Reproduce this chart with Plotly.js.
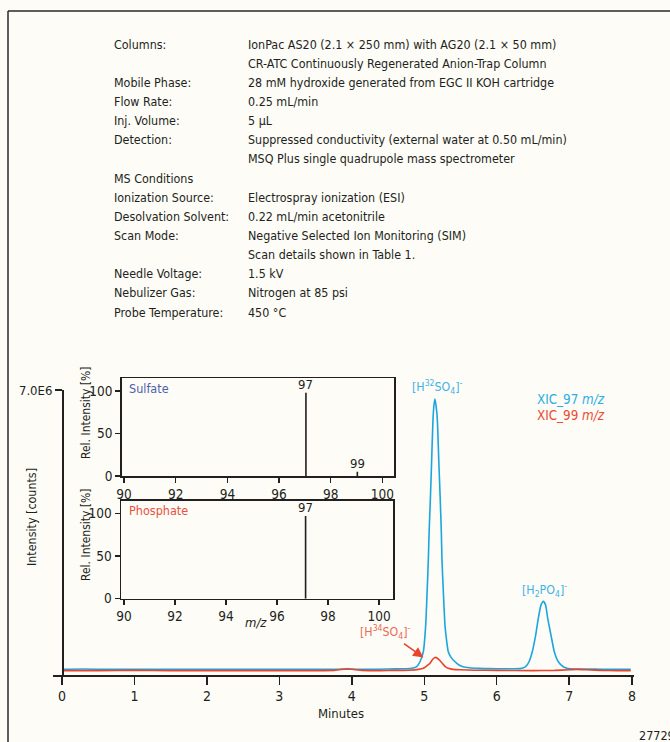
<!DOCTYPE html>
<html>
<head>
<meta charset="utf-8">
<script src="https://cdn.plot.ly/plotly-3.0.1.min.js"></script>
<style>
  html, body { margin: 0; padding: 0; background: #fdfcf7; }
  #chart { width: 670px; height: 742px; }
  .main-svg text { font-stretch: condensed; }
</style>
</head>
<body>
<div id="chart"></div>
<script>
// ---------------- DATA ----------------
// Chromatogram, time in minutes (axis drawn as in the reference: tick "8" sits at the end of the axis)
const xic97Time = [0, 0.3, 0.6, 1.0, 1.5, 2.0, 2.5, 3.0, 3.5, 3.9, 4.2, 4.5, 4.7, 4.8, 4.86, 4.896, 4.941, 4.987, 5.02, 5.045, 5.056, 5.068, 5.085, 5.10, 5.121, 5.136, 5.148, 5.162, 5.18, 5.203, 5.22, 5.235, 5.245, 5.265, 5.286, 5.31, 5.332, 5.37, 5.424, 5.48, 5.535, 5.62, 5.75, 5.9, 6.1, 6.25, 6.321, 6.37, 6.40, 6.446, 6.491, 6.538, 6.574, 6.61, 6.643, 6.675, 6.704, 6.749, 6.795, 6.85, 6.919, 6.97, 7.012, 7.1, 7.25, 7.45, 7.65, 7.85];
const xic97Counts = [0.02, 0.03, 0.02, 0.025, 0.02, 0.025, 0.02, 0.02, 0.02, 0.025, 0.02, 0.03, 0.035, 0.04, 0.06, 0.087, 0.211, 0.46, 1.125, 2.2, 2.743, 3.49, 4.3, 5.108, 6.278, 6.65, 6.776, 6.62, 6.278, 5.108, 4.3, 3.49, 2.743, 1.9, 1.125, 0.72, 0.46, 0.32, 0.211, 0.13, 0.087, 0.06, 0.045, 0.04, 0.035, 0.035, 0.04, 0.06, 0.087, 0.211, 0.46, 0.876, 1.292, 1.62, 1.722, 1.63, 1.292, 0.876, 0.46, 0.211, 0.087, 0.05, 0.035, 0.03, 0.03, 0.025, 0.025, 0.02];
const xic99Time = [0, 0.5, 1.0, 1.5, 2.0, 2.5, 3.0, 3.5, 3.75, 3.85, 3.93, 4.02, 4.15, 4.4, 4.6, 4.8, 4.92, 4.987, 5.03, 5.079, 5.12, 5.158, 5.20, 5.249, 5.29, 5.332, 5.40, 5.5, 5.7, 6.0, 6.5, 6.8, 7.0, 7.1, 7.25, 7.45, 7.65, 7.85];
const xic99Counts = [-0.01, -0.01, -0.005, -0.01, -0.01, -0.01, -0.01, -0.01, -0.005, 0.02, 0.035, 0.02, -0.005, -0.01, -0.005, 0.0, 0.02, 0.047, 0.1, 0.172, 0.28, 0.321, 0.27, 0.172, 0.09, 0.047, 0.02, 0.01, 0.0, -0.005, -0.01, -0.005, 0.01, 0.02, 0.01, -0.005, -0.01, -0.01];
const countsUnit = 1e6;

const timeTickVals = [0, 1, 2, 3, 4, 5, 6, 7, 7.867];
const timeTickText = ['0', '1', '2', '3', '4', '5', '6', '7', '8'];
const countTickVals = [7.0e6];
const countTickText = ['7.0E6'];

// Mass spectra insets
const sulfateMz = [97.04, 99.03];
const sulfateRel = [98, 5];
const sulfatePeakLabels = ['97', '99'];
const phosphateMz = [97.12];
const phosphateRel = [97];
const phosphatePeakLabels = ['97'];
const mzTickVals = [90, 92, 94, 96, 98, 100];
const relTickVals = [0, 50, 100];

// Method conditions text
const condLabels = ['Columns:', '', 'Mobile Phase:', 'Flow Rate:', 'Inj. Volume:', 'Detection:', '', 'MS Conditions', 'Ionization Source:', 'Desolvation Solvent:', 'Scan Mode:', '', 'Needle Voltage:', 'Nebulizer Gas:', 'Probe Temperature:'];
const condValues = ['IonPac AS20 (2.1 × 250 mm) with AG20 (2.1 × 50 mm)', 'CR-ATC Continuously Regenerated Anion-Trap Column', '28 mM hydroxide generated from EGC II KOH cartridge', '0.25 mL/min', '5 µL', 'Suppressed conductivity (external water at 0.50 mL/min)', 'MSQ Plus single quadrupole mass spectrometer', '', 'Electrospray ionization (ESI)', '0.22 mL/min acetonitrile', 'Negative Selected Ion Monitoring (SIM)', 'Scan details shown in Table 1.', '1.5 kV', 'Nitrogen at 85 psi', '450 °C'];

// ---------------- STYLE / LAYOUT ----------------
const W = 670, H = 742;
const px = x => x / W;
const py = y => 1 - y / H;
const FONT = "'DejaVu Sans Condensed', 'Liberation Sans Narrow', 'DejaVu Sans', sans-serif";
const INK = '#231f20';
const BLUE = '#1ba6e0';
const RED = '#e8432c';

function sticks(xs, ys) {
  const sx = [], sy = [];
  xs.forEach((m, i) => { sx.push(m, m, null); sy.push(0, ys[i], null); });
  return { sx, sy };
}
const s1 = sticks(sulfateMz, sulfateRel);
const s2 = sticks(phosphateMz, phosphateRel);

const traces = [
  { x: xic97Time, y: xic97Counts.map(v => v * countsUnit), mode: 'lines', line: { color: BLUE, width: 1.6, shape: 'spline', smoothing: 0.5 }, xaxis: 'x', yaxis: 'y' },
  { x: xic99Time, y: xic99Counts.map(v => v * countsUnit), mode: 'lines', line: { color: RED, width: 1.6, shape: 'spline', smoothing: 0.5 }, xaxis: 'x', yaxis: 'y' },
  { x: s1.sx, y: s1.sy, mode: 'lines', line: { color: INK, width: 1.6 }, xaxis: 'x2', yaxis: 'y2' },
  { x: s2.sx, y: s2.sy, mode: 'lines', line: { color: INK, width: 1.6 }, xaxis: 'x3', yaxis: 'y3' }
];

const tickFont = { family: FONT, size: 13.5, color: INK };
const insetAxisX = (dom, rng, anchor) => ({
  domain: dom, range: rng, anchor: anchor, showline: true, mirror: true, linecolor: INK, linewidth: 1.5,
  ticks: 'outside', ticklen: 5, tickwidth: 1.3, tickcolor: INK, tickvals: mzTickVals,
  tickfont: tickFont, showgrid: false, zeroline: false
});
const insetAxisY = (dom, rng, anchor) => ({
  domain: dom, range: rng, anchor: anchor, showline: true, mirror: true, linecolor: INK, linewidth: 1.5,
  ticks: 'outside', ticklen: 5, tickwidth: 1.3, tickcolor: INK, tickvals: relTickVals,
  tickfont: tickFont, showgrid: false, zeroline: false
});

function note(x, y, text, size, color, extra) {
  return Object.assign({ xref: 'paper', yref: 'paper', x: px(x), y: py(y), xanchor: 'center', yanchor: 'middle', text: text, showarrow: false, font: { family: FONT, size: size, color: color } }, extra || {});
}

const annotations = [];
condLabels.forEach((t, i) => {
  const y = 44 + i * 19.15;
  if (t) annotations.push(note(112, y, t, 12.4, INK, { xanchor: 'left' }));
  if (condValues[i]) annotations.push(note(246, y, condValues[i], 12.4, INK, { xanchor: 'left' }));
});

// axis titles
annotations.push(note(341, 713, 'Minutes', 13, INK));
annotations.push(note(31, 517, 'Intensity [counts]', 12.4, INK, { textangle: -90 }));
annotations.push(note(86, 413, 'Rel. Intensity [%]', 12, INK, { textangle: -90 }));
annotations.push(note(86, 535, 'Rel. Intensity [%]', 12, INK, { textangle: -90 }));
annotations.push(note(256, 622, '<i>m/z</i>', 13, INK));

// inset names
annotations.push(note(127, 388, 'Sulfate', 12.5, '#4c5fae', { xanchor: 'left' }));
annotations.push(note(127, 511, 'Phosphate', 12.5, '#e8523c', { xanchor: 'left' }));

// peak labels on spectra
sulfateMz.forEach((m, i) => annotations.push({ xref: 'x2', yref: 'y2', x: m, y: sulfateRel[i], xanchor: 'center', yanchor: 'bottom', yshift: -1, text: sulfatePeakLabels[i], showarrow: false, font: { family: FONT, size: 13, color: INK } }));
phosphateMz.forEach((m, i) => annotations.push({ xref: 'x3', yref: 'y3', x: m, y: phosphateRel[i], xanchor: 'center', yanchor: 'bottom', yshift: -1, text: phosphatePeakLabels[i], showarrow: false, font: { family: FONT, size: 13, color: INK } }));

// chromatogram peak labels and legend
annotations.push(note(437, 387, '[H<sup>32</sup>SO<sub>4</sub>]<sup>-</sup>', 12.3, '#3db3e6'));
annotations.push(note(544, 590, '[H<sub>2</sub>PO<sub>4</sub>]<sup>-</sup>', 12.3, '#3db3e6'));
annotations.push(note(385, 632, '[H<sup>34</sup>SO<sub>4</sub>]<sup>-</sup>', 12.3, '#ee6a56'));
annotations.push({ xref: 'paper', yref: 'paper', x: px(423.5), y: py(657.5), ax: -21, ay: -15, text: '', showarrow: true, arrowhead: 2, arrowsize: 1.3, arrowwidth: 1.6, arrowcolor: '#e8452c', standoff: 0 });
annotations.push(note(535, 399, 'XIC_97 <i>m/z</i>', 13.3, '#2aaee4', { xanchor: 'left' }));
annotations.push(note(535, 415, 'XIC_99 <i>m/z</i>', 13.3, '#ec4a33', { xanchor: 'left' }));
annotations.push(note(637, 735, '27729', 12.5, INK, { xanchor: 'left' }));

const layout = {
  width: W, height: H,
  margin: { l: 0, r: 0, t: 0, b: 0 },
  paper_bgcolor: '#fdfcf7', plot_bgcolor: 'rgba(0,0,0,0)',
  showlegend: false, hovermode: false,
  font: { family: FONT, color: INK },
  xaxis: {
    domain: [px(53), px(634)], range: [-0.124, 7.895], anchor: 'y',
    showline: true, linecolor: INK, linewidth: 1.6,
    ticks: 'outside', ticklen: 8, tickwidth: 1.5, tickcolor: INK,
    tickvals: timeTickVals, ticktext: timeTickText, tickfont: { family: FONT, size: 14, color: INK },
    showgrid: false, zeroline: false
  },
  yaxis: {
    domain: [py(675), py(390)], range: [-0.12e6, 7.0e6], anchor: 'free', position: px(62),
    showline: true, linecolor: INK, linewidth: 1.6,
    ticks: 'outside', ticklen: 7, tickwidth: 1.5, tickcolor: INK,
    tickvals: countTickVals, ticktext: countTickText, tickfont: { family: FONT, size: 13, color: INK },
    showgrid: false, zeroline: false
  },
  xaxis2: insetAxisX([px(121.7), px(394.3)], [89.91, 100.46], 'y2'),
  yaxis2: insetAxisY([py(476), py(378.3)], [0, 115], 'x2'),
  xaxis3: insetAxisX([px(121), px(393.3)], [89.88, 100.56], 'y3'),
  yaxis3: insetAxisY([py(598.7), py(500.7)], [0, 114.8], 'x3'),
  shapes: [
    { type: 'line', xref: 'paper', yref: 'paper', x0: px(8), x1: 1, y0: py(11), y1: py(11), line: { color: '#2a2a2a', width: 1.5 } },
    { type: 'line', xref: 'paper', yref: 'paper', x0: px(8), x1: px(8), y0: py(11), y1: 0, line: { color: '#2a2a2a', width: 1.5 } }
  ],
  annotations: annotations
};

Plotly.newPlot('chart', traces, layout, { staticPlot: true, displayModeBar: false });
</script>
</body>
</html>
